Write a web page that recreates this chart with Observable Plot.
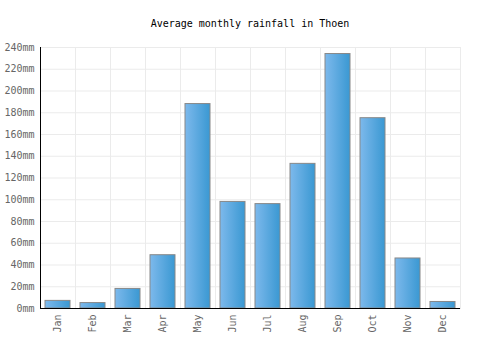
<!DOCTYPE html>
<html><head><meta charset="utf-8">
<script src="https://cdn.jsdelivr.net/npm/d3@7"></script>
<script src="https://cdn.jsdelivr.net/npm/@observablehq/plot@0.6"></script>
<style>
body{margin:0;background:#fff;width:500px;height:350px;overflow:hidden;font-family:"DejaVu Sans Mono",monospace;}
#title{height:40px;line-height:48px;text-align:center;font-size:10px;color:#000;}
</style></head>
<body><div id="title">Average monthly rainfall in Thoen</div><div id="chart"></div>
<script>
const months = ["Jan","Feb","Mar","Apr","May","Jun","Jul","Aug","Sep","Oct","Nov","Dec"];
const rainfall = [7, 5, 18, 49, 188, 98, 96, 133, 234, 175, 46, 6];
const yTicks = [0,20,40,60,80,100,120,140,160,180,200,220,240];
const data = months.map((m,i)=>({month:m, value:rainfall[i]}));

const defs = () => {
  const ns = "http://www.w3.org/2000/svg";
  const d = document.createElementNS(ns,"defs");
  const g = document.createElementNS(ns,"linearGradient");
  g.setAttribute("id","barGrad");
  g.setAttribute("x1","0");g.setAttribute("x2","1");g.setAttribute("y1","0");g.setAttribute("y2","0");
  [["0%","#7db9ec"],["100%","#3a98d2"]].forEach(([o,c])=>{
    const s=document.createElementNS(ns,"stop");s.setAttribute("offset",o);s.setAttribute("stop-color",c);g.appendChild(s);
  });
  d.appendChild(g);
  return d;
};

const chart = Plot.plot({
  width:500, height:310,
  marginTop:7, marginLeft:40, marginRight:40, marginBottom:42,
  style:{fontFamily:"'DejaVu Sans Mono', monospace", fontSize:"10px", background:"#fff"},
  x:{domain:months, paddingInner:0.3, paddingOuter:0.15, label:null},
  y:{domain:[0,240], label:null},
  marks:[
    defs,
    Plot.gridY(yTicks,{stroke:"#ebebeb", strokeOpacity:1, strokeWidth:1}),
    Plot.gridX(months,{stroke:"#ebebeb", strokeOpacity:1, dx:17.5}),
    Plot.frame({stroke:"#ebebeb"}),
    Plot.barY(data,{x:"month", y:"value", fill:"url(#barGrad)", stroke:"#888", strokeWidth:1}),
    Plot.axisY(yTicks,{tickSize:0, tickPadding:6, tickFormat:d=>d+"mm", fill:"#666", label:null}),
    Plot.axisX(months,{tickSize:0, tickPadding:6, tickRotate:-90, fill:"#666", label:null}),
    Plot.frame({anchor:"left", stroke:"#000"}),
    Plot.ruleY([0],{stroke:"#000"})
  ]
});
document.getElementById("chart").appendChild(chart);
</script></body></html>
